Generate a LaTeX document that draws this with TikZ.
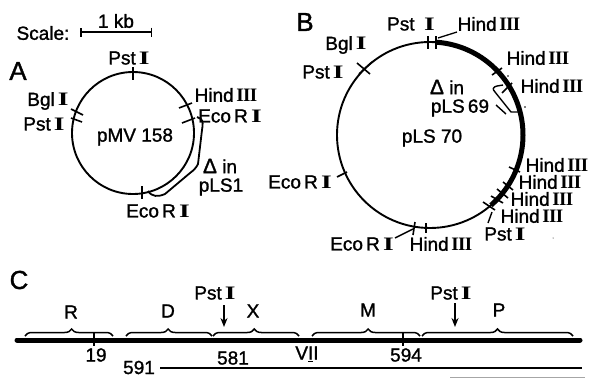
\documentclass[tikz,border=0pt]{standalone}
\usepackage{fontspec}
\setmainfont[FakeBold=1.3]{Liberation Sans}
\newfontfamily\rnw[FakeStretch=1.45]{Liberation Serif}
\newfontfamily\rnn{Liberation Serif}
\usetikzlibrary{arrows.meta,decorations.pathreplacing}
\newcommand{\RI}{\,{\rnw\bfseries I}}
\newcommand{\RIII}{\,{\rnn\bfseries\kern-.5pt I\kern-.6pt I\kern-.6pt I}}
\newcommand{\Dl}{{\fontsize{21}{21}\selectfont Δ}}
\tikzset{
  lab/.style={inner sep=0pt,outer sep=1pt,font=\fontsize{19}{19}\selectfont},
  big/.style={inner sep=0pt,font=\fontsize{26}{26}\selectfont},
  tick/.style={line width=1.6pt},
  plasmid/.style={circle,draw,line width=1.9pt,inner sep=0pt},
  genebrace/.style={line width=1.5pt,decorate,decoration={brace,amplitude=7pt,aspect=#1}},
  cutarrow/.style={line width=1.5pt,-{Stealth[length=9pt,width=7pt]}},
}
\begin{document}
\begin{tikzpicture}[x=1pt,y=-1pt]
\useasboundingbox (0,0) rectangle (589,378);
% Scale
\node[lab] (scale) at (43,33) {Scale:};
\coordinate (s1) at (80,32); \coordinate (s2) at (152,32);
\draw[line width=1.5pt,|-|] (s1) -- (s2);
\node[lab] (kb) at (116,21) {1 kb};
% Panel A
\node[big] (A) at (18,71) {A};
\node[plasmid,minimum size=122pt] (pa) at (133,133) {};
\node[lab] (a1) at (129,58) {Pst\RI};
\node[lab] (a2) at (48,101) {Bgl\RI};
\node[lab] (a3) at (44,124) {Pst\RI};
\node[lab] (a4) at (135,137) {pMV 158};
\node[lab] (a5) at (226,95) {Hind\RIII};
\node[lab] (a6) at (230,116) {Eco\,R\RI};
\node[lab] (a7) at (220,166) {\Dl\ in};
\node[lab] (a8) at (221,187) {pLS1};
\node[lab] (a9) at (158,211) {Eco\,R\RI};
\draw[tick] (133,67) -- (133,80);
\draw[tick] (179,108) -- (192,103);
\draw[tick] (182,123) -- (195,118);
\draw[tick] (142,186) -- (142,199);
\draw[tick] (71,109) -- (83,115);
\draw[tick] (71,118) -- (82,122);
\draw[line width=1.8pt,line join=round] (197,117) -- (201,119) .. controls (203,121) and (203,124) .. (202,130) -- (198,164) .. controls (196,168) and (194,170) .. (190,173) -- (165,194) .. controls (158,197) and (152,197) .. (148,191);
% Panel B
\node[big] (B) at (305,22) {B};
\node[plasmid,minimum size=186pt] (pb) at (430,135) {};
\draw[line width=5pt] plot[domain=-49:86,samples=70] ({430+93*cos(\x)},{135-93*sin(\x)});
\node[lab] (b1) at (411,24) {Pst\,\,\RI};
\node[lab] (b2) at (489,24) {Hind\RIII};
\node[lab] (b3) at (346,45) {Bgl\RI};
\node[lab] (b4) at (323,72) {Pst\RI};
\node[lab] (b5) at (538,58) {Hind\RIII};
\node[lab] (b6) at (552,86) {Hind\RIII};
\node[lab] (b7) at (447,87) {\Dl\ in};
\node[lab] (b8) at (460,108) {pLS\,69};
\node[lab] (b9) at (432,138) {pLS 70};
\node[lab] (b10) at (300,182) {Eco\,R\RI};
\node[lab] (b11) at (557,165) {Hind\RIII};
\node[lab] (b12) at (550,182) {Hind\RIII};
\node[lab] (b13) at (542,199) {Hind\RIII};
\node[lab] (b14) at (532,216) {Hind\RIII};
\node[lab] (b15) at (505,234) {Pst\RI};
\node[lab] (b16) at (362,244) {Eco\,R\RI};
\node[lab] (b17) at (441,244) {Hind\RIII};
\draw[tick] (428,36) -- (428,49);
\draw[tick] (436,36) -- (436,49);
\draw[tick] (357,63) -- (370,74);
\draw[tick] (359,74) -- (372,62);
\draw[tick] (492,75) -- (502,68);
\draw[tick] (502,93) -- (512,83);
\draw[tick] (509,167) -- (520,172);
\draw[tick] (503,182) -- (513,190);
\draw[tick] (497,189) -- (508,198);
\draw[tick] (491,196) -- (503,203);
\draw[tick] (483,202) -- (495,210);
\draw[tick] (415,222) -- (413,235);
\draw[tick] (426,223) -- (426,233);
\draw[tick] (337,177) -- (347,172);
\coordinate (h1) at (438,38);
\draw[line width=1.3pt] (457,32) -- (h1);
\coordinate (p1) at (492,212); \coordinate (p2) at (488,223);
\draw[line width=1.4pt] (p1) -- (p2);
\coordinate (e1) at (413,229);
\draw[line width=1.4pt] (395,238) -- (e1);
\draw[line width=1.4pt,line join=round] (503,85) -- (497,86) .. controls (493,87) and (492,89) .. (495,92) -- (511,112) -- (520,112);
\draw[line width=1.4pt] (496,105) -- (506,114);
\fill (508,76) circle[radius=.8pt] (525,107) circle[radius=.8pt] (553,238) circle[radius=.5pt];
% Panel C
\node[big] (C) at (19,280) {C};
\coordinate (m1) at (17,340); \coordinate (m2) at (580,340);
\draw[line width=5pt,line cap=round] (m1) -- (m2);
\draw[tick] (94,333) -- (94,346);
\draw[tick] (403,333) -- (403,346);
\draw[genebrace=.53] (25,336) -- (113,336);
\draw[genebrace=.49] (126,336) -- (212,336);
\draw[genebrace=.48] (213,336) -- (299,336);
\draw[genebrace=.52] (312,336) -- (420,336);
\draw[genebrace=.50] (422,336) -- (573,336);
\node[lab] (R) at (71,312) {R};
\node[lab] (D) at (168,311) {D};
\node[lab] (X) at (253,311) {X};
\node[lab] (M) at (368,310) {M};
\node[lab] (P) at (499,310) {P};
\node[lab] (c1) at (215,293) {Pst\RI};
\node[lab] (c2) at (451,293) {Pst\RI};
\coordinate (ca) at (224,327); \coordinate (cb) at (455,327);
\draw[cutarrow] (224,305) -- (ca);
\draw[cutarrow] (455,303) -- (cb);
\node[lab] (n19) at (96,355) {19};
\node[lab] (n581) at (233,358) {581};
\node[lab] (nv) at (307,354) {V\underline{I}I};
\node[lab] (n594) at (406,355) {594};
\node[lab] (n591) at (139,367.5) {591};
\coordinate (l2) at (582,368);
\draw[line width=1.6pt] (160,368) -- (l2);
\draw[line width=1pt,black!35] (450,377) -- (585,377);
\end{tikzpicture}
\end{document}
